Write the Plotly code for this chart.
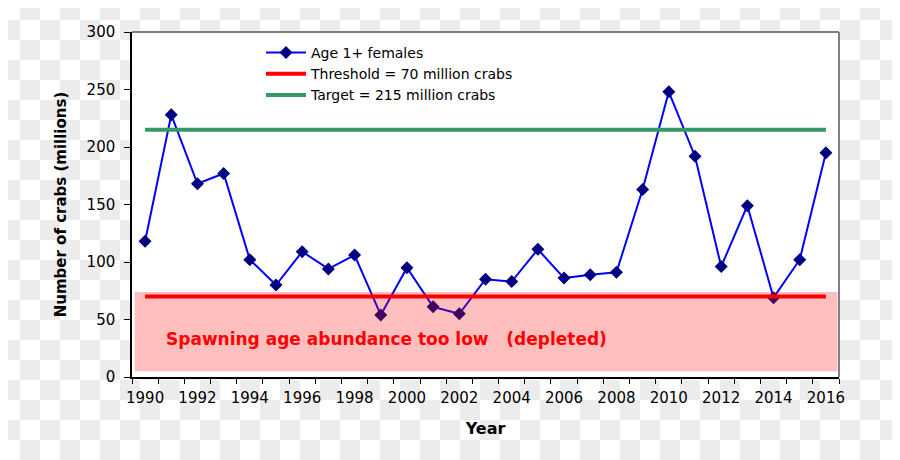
import plotly.graph_objects as go

# ---- data ----
years = list(range(1990, 2017))
females = [118, 228, 168, 177, 102, 80, 109, 94, 106, 54,
           95, 61, 55, 85, 83, 111, 86, 89, 91, 163,
           248, 192, 96, 149, 69, 102, 195]
threshold = 70
target = 215
depleted_low, depleted_high = 5, 74
tick_years = list(range(1990, 2017, 2))
y_ticks = [0, 50, 100, 150, 200, 250, 300]

W, H = 900, 460
OFF = 8  # page body margin offset
ML, MT = 132 - OFF, 32 - OFF
MR, MB = W - (839 - OFF), H - (377 - OFF)
PW, PH = W - ML - MR, H - MT - MB

def px_x(p):  # screen pixel -> paper
    return (p - OFF - ML) / PW

def px_y(p):
    return (H - MB - (p - OFF)) / PH

# checkerboard background (transparent-image pattern)
sq = 20
parts = []
for j in range(H // sq + 2):
    for i in range(W // sq + 2):
        if (i + j) % 2 == 1:
            x0, x1 = px_x(i * sq), px_x((i + 1) * sq)
            y0, y1 = px_y(j * sq), px_y((j + 1) * sq)
            parts.append(f"M{x0:.5f},{y0:.5f}L{x1:.5f},{y0:.5f}L{x1:.5f},{y1:.5f}L{x0:.5f},{y1:.5f}Z")
checker_path = "".join(parts)

font = "DejaVu Sans"

fig = go.Figure()
fig.add_trace(go.Scatter(
    x=years, y=females, mode="lines+markers", name="Age 1+ females",
    line=dict(color="#0000ff", width=2),
    marker=dict(symbol="diamond", size=10, color="#000080"),
))
fig.add_trace(go.Scatter(
    x=[years[0], years[-1]], y=[threshold, threshold], mode="lines",
    name=f"Threshold = {threshold} million crabs",
    line=dict(color="#ff0000", width=4),
))
fig.add_trace(go.Scatter(
    x=[years[0], years[-1]], y=[target, target], mode="lines",
    name=f"Target = {target} million crabs",
    line=dict(color="#339966", width=4),
))

shapes = [
    dict(type="path", xref="paper", yref="paper", path=checker_path,
         fillcolor="#ececec", line=dict(width=0), layer="below"),
    dict(type="rect", xref="paper", yref="paper", x0=0, x1=1, y0=0, y1=1,
         fillcolor="white", line=dict(width=0), layer="below"),
    dict(type="rect", xref="x", yref="y", x0=1989.6, x1=2016.45,
         y0=depleted_low, y1=depleted_high,
         fillcolor="rgba(255,0,0,0.25)", line=dict(width=0), layer="above"),
    dict(type="line", xref="paper", yref="paper", x0=0, x1=1, y0=1, y1=1,
         line=dict(color="#808080", width=2)),
    dict(type="line", xref="paper", yref="paper", x0=1, x1=1, y0=0, y1=1,
         line=dict(color="#808080", width=2)),
]

fig.update_layout(
    width=W, height=H,
    margin=dict(l=ML, r=MR, t=MT, b=MB, autoexpand=False),
    paper_bgcolor="white", plot_bgcolor="rgba(0,0,0,0)",
    font=dict(family=font, size=15, color="black"),
    shapes=shapes,
    showlegend=True,
    legend=dict(x=px_x(261), y=px_y(37), xanchor="left", yanchor="top",
                bgcolor="rgba(0,0,0,0)", font=dict(size=14, family=font),
                itemwidth=40),
    annotations=[dict(
        x=1999.22, y=33, xref="x", yref="y",
        text="Spawning age abundance too low\u00a0\u00a0\u00a0(depleted)",
        showarrow=False, font=dict(family=font, size=17, color="#ff0000", weight="bold"),
    )],
)

fig.update_xaxes(
    range=[1989.5, 2016.5], tickmode="array", tickvals=tick_years,
    ticktext=[str(y) for y in tick_years], ticks="", showgrid=False, zeroline=False,
    showline=True, linecolor="black", linewidth=1.5,
    minor=dict(ticks="outside", tickmode="linear", tick0=1989.5, dtick=1,
               ticklen=5, tickcolor="black", showgrid=False),
    ticklabelstandoff=6,
    title=dict(text="<b>Year</b>", font=dict(size=16, family=font), standoff=17),
)
fig.update_yaxes(
    range=[0, 300], tickmode="array", tickvals=y_ticks, ticks="outside", ticklen=6,
    tickcolor="black", showgrid=False, zeroline=False,
    showline=True, linecolor="black", linewidth=1.5,
    ticklabelstandoff=6,
    title=dict(text="<b>Number of crabs (millions)</b>", font=dict(size=15, family=font), standoff=16),
)

fig.write_html("out.html")
